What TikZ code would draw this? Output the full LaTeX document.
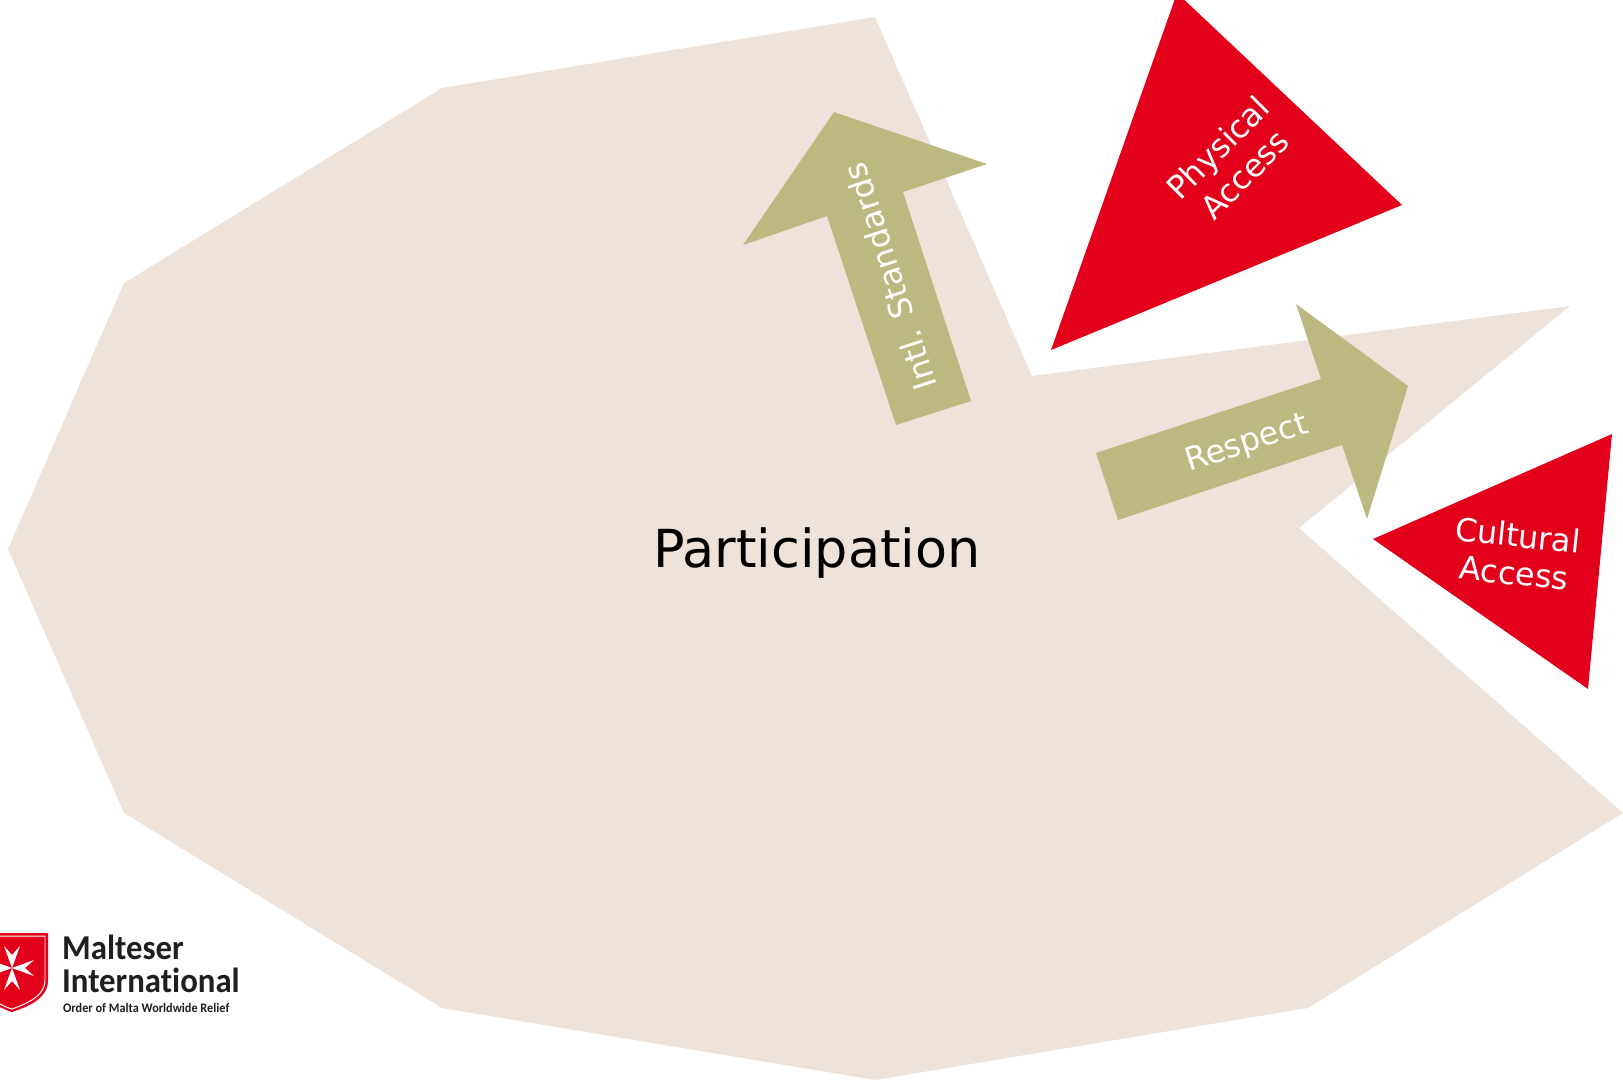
\documentclass[tikz,border=0pt]{standalone}
\usepackage{fontspec}
\setmainfont{DejaVu Sans}
\newfontfamily\logofont[FakeStretch=0.94,Ligatures=NoCommon]{Carlito}
\definecolor{sand}{HTML}{EDE3DA}
\definecolor{olive}{HTML}{BBB980}
\definecolor{signal}{HTML}{E2001A}
\begin{document}
\begin{tikzpicture}[
                x=1bp,y=-1bp,
                blob/.style={fill=sand},
                arrowshape/.style={fill=olive},
                wedge/.style={fill=signal},
                mainlabel/.style={black,font=\fontsize{52.6}{60}\selectfont},
                onshape/.style={white,align=center,font=\fontsize{32}{38}\selectfont},
                logotext/.style={anchor=base west,inner sep=0pt,text=black!88}
                ]
                \useasboundingbox (0,0) rectangle (1623,1080);
                \fill[blob] (875,17) -- (442,88) -- (124,283) -- (8,549) -- (124,813) -- (442,1008) -- (875,1080)
                    -- (1308,1008) -- (1623,813) -- (1299,528) -- (1570,306) -- (1032,376) -- cycle;
                \fill[wedge] (1177,-7) -- (1402,205) -- (1051,350) -- cycle;
                \fill[wedge] (1373,539) -- (1612,434) -- (1588,689) -- cycle;
                \fill[arrowshape] (834,112) -- (987,164) -- (903,192) -- (971,401) -- (896,425) -- (827,216) -- (743,245) -- cycle;
                \fill[arrowshape] (1096,453) -- (1321,379) -- (1296,304) -- (1408,386) -- (1367,519) -- (1342,445) -- (1118,520) -- cycle;
                \node[mainlabel] (participation) at (817,553) {Participation};
                \node[onshape,rotate=108] (standards) at (890,277) {Intl. Standards};
                \node[onshape,rotate=18] (respect) at (1247,444) {Respect};
                \node[onshape,rotate=45] (physical) at (1231,161) {Physical\\Access};
                \node[onshape,rotate=-6] (cultural) at (1516,554) {Cultural\\Access};
                \fill[wedge] (0,933) -- (48,933) -- (48,980) .. controls (48,998) and (30,1006) .. (12,1012) .. controls (8,1011) and (4,1009) .. (0,1007) -- cycle;
                \draw[white,line width=1pt] (0,936) -- (45,936) -- (45,980) .. controls (45,996) and (28,1003) .. (12,1009) .. controls (8,1008) and (4,1006) .. (0,1004);
                \foreach \angle in {0,90,180,270}
                    \fill[white,rotate around={\angle:(12,968)}] (12,968) -- (4,946) -- (12,955) -- (20,946) -- cycle;
                \node[logotext,font=\logofont\bfseries\fontsize{35}{35}\selectfont] (malteser) at (62,959) {Malteser};
                \node[logotext,font=\logofont\bfseries\fontsize{35}{35}\selectfont] (international) at (62,992) {International};
                \node[logotext,font=\logofont\bfseries\fontsize{13.1}{14}\selectfont] (tagline) at (63,1012) {Order of Malta Worldwide Relief};
                \end{tikzpicture}
\end{document}
